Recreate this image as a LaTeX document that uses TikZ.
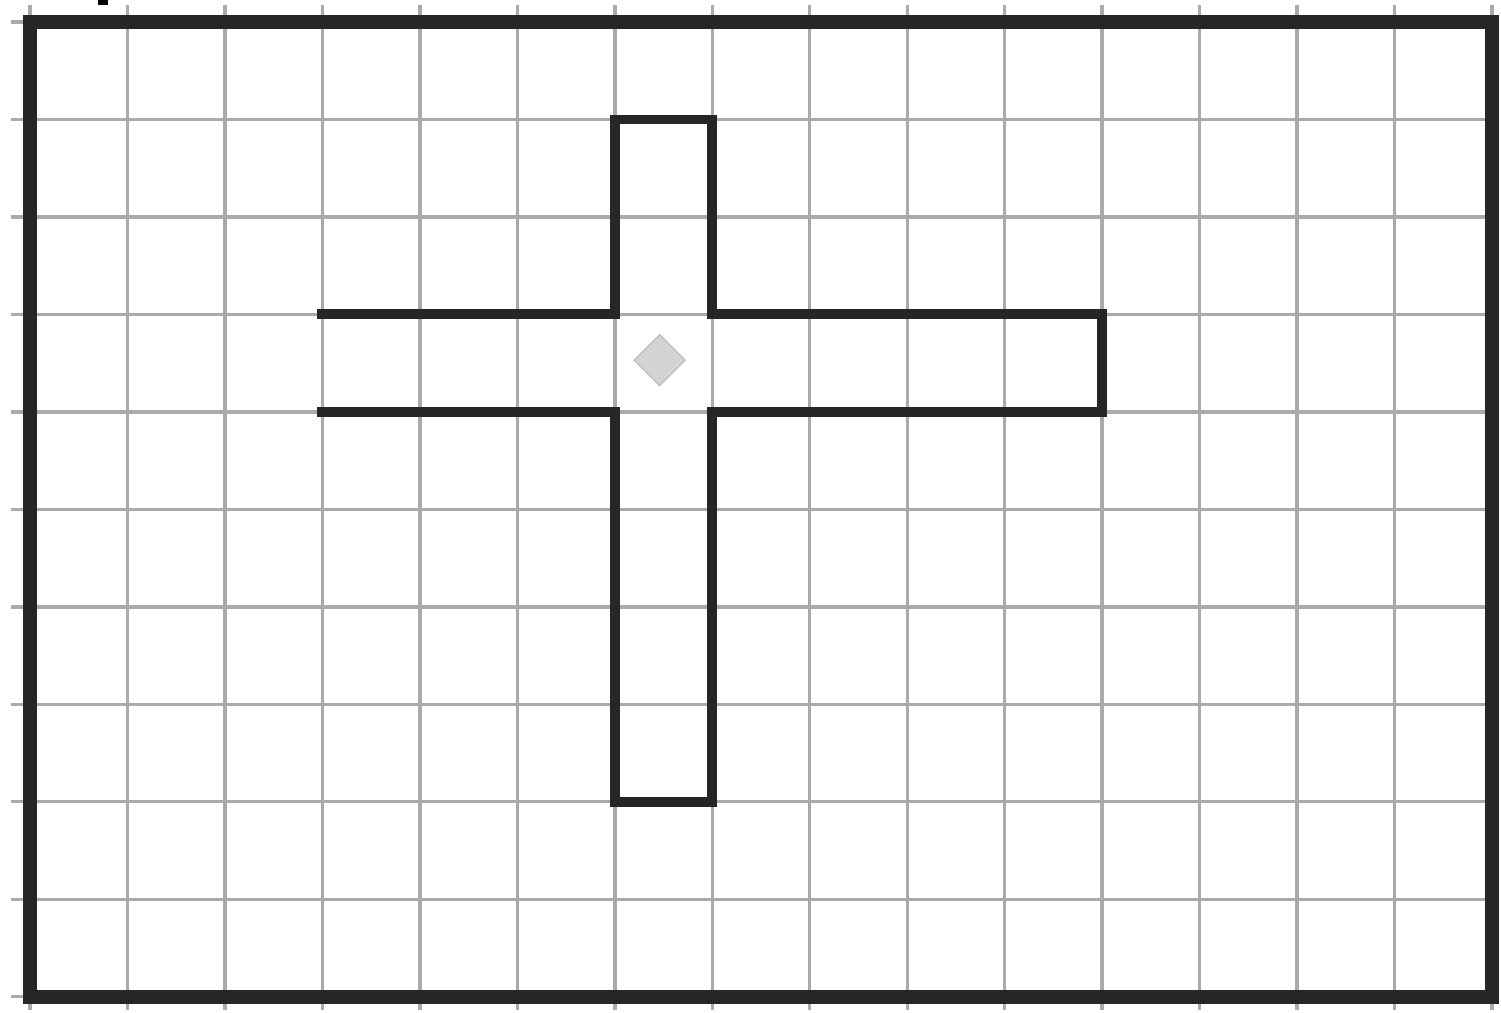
\documentclass[tikz,border=0pt]{standalone}
\usetikzlibrary{shapes.geometric}
\definecolor{gridgray}{HTML}{AAAAAA}
\definecolor{inkdark}{HTML}{262626}
\definecolor{markfill}{HTML}{D3D3D3}
\definecolor{markline}{HTML}{BBBBBB}
\begin{document}
\begin{tikzpicture}[
  gridline/.style={gridgray, line width=1pt},
  frameline/.style={inkdark, line width=4.1pt},
  wallline/.style={inkdark, line width=2.9pt, line join=miter, line cap=rect},
  marker/.style={diamond, draw=markline, fill=markfill, line width=0.3pt,
    minimum width=0.53cm, minimum height=0.53cm, inner sep=0pt}
]
\useasboundingbox (-0.308,-0.164) rectangle (15.092,10.226);

% grid
\foreach \x in {0,...,15}
  \draw[gridline] (\x,-0.133) -- (\x,10.174);
\foreach \y in {0,...,10}
  \draw[gridline] (-0.195,\y) -- (15.05,\y);

% outer frame
\draw[frameline] (0,0) rectangle (15,10);

% cut-off mark at the top edge
\fill[black] (0.70,10.176) rectangle (0.80,10.226);

% cross
\coordinate (armL1) at (3,7);
\coordinate (armL2) at (3,6);
\draw[wallline] (armL1) -- (6,7) -- (6,9) -- (7,9) -- (7,7) -- (11,7)
  -- (11,6) -- (7,6) -- (7,2) -- (6,2) -- (6,6) -- (armL2);

% start marker
\node (start) [marker] at (6.46,6.53) {};
\end{tikzpicture}
\end{document}
